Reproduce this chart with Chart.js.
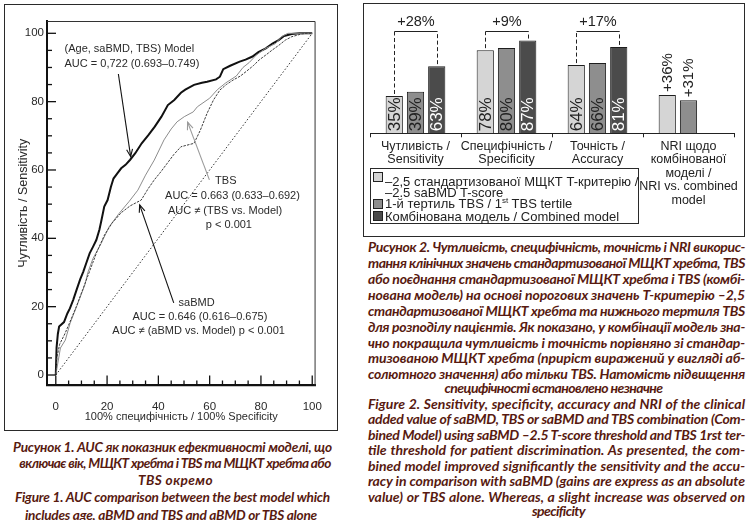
<!DOCTYPE html>
<html><head><meta charset="utf-8">
<script src="https://cdn.jsdelivr.net/npm/chart.js@4.4.1/dist/chart.umd.min.js"></script>
<style>
html,body{margin:0;padding:0;background:#fff;}
body{width:748px;height:520px;position:relative;overflow:hidden;font-family:"Liberation Sans",Arial,sans-serif;color:#222;}
.box{position:absolute;border:1px solid #2a2a2a;box-sizing:border-box;}
canvas{position:absolute;}
.cap{position:absolute;white-space:nowrap;font-family:Lato,"Open Sans",sans-serif;font-weight:700;font-style:italic;color:#581a10;line-height:16px;height:16px;}
.lg{position:absolute;white-space:nowrap;font-size:13px;line-height:13px;color:#222;}
.sw{position:absolute;width:10px;height:10px;border:1px solid #222;box-sizing:border-box;}
</style>
</head><body>
<div class="box" style="left:4px;top:4px;width:334px;height:427px;"></div>
<div class="box" style="left:363px;top:3px;width:382px;height:234px;"></div>
<canvas id="roc" width="331" height="424" style="left:5px;top:5px;width:331px;height:424px;"></canvas>
<canvas id="bar" width="380" height="232" style="left:364px;top:4px;width:380px;height:232px;"></canvas>
<div id="legend"></div>
<div id="caps"></div>
<script>
// ---------- ROC data (Figure 1) ----------
const MODEL_FPR = [0,0.3,0.8,1.3,3.2,4.5,5.5,6.8,8.1,9.5,10.7,12,13.2,14.5,15.8,17,17.7,18.9,20.2,21.5,22.5,24,25.5,27.2,29,31,33.5,36.1,38.6,41.2,43.7,46.2,48.8,50.5,53.9,57,59,62.5,64,65.3,68,71.7,74,76.7,79,81.9,84.5,86.9,89,92,95,100];
const MODEL_TPR = [0,8,12,14.2,15.5,18,19.5,22,24.9,28,30.2,33,35.6,37.5,39.5,42.5,44.9,49.3,51.2,55.1,57.5,59,60.5,61.5,63,64.9,67.8,70.2,72.7,75.6,79,80.5,82.6,83.5,84.9,85.5,85.8,86.5,87.3,89.5,90.5,91.7,92.3,93.2,94.5,95.6,97,98,99.2,99.8,100,100];
const TBS_FPR = [0,0.8,1.8,3.7,5.6,8.1,11.3,12.5,14.5,17.7,20.8,24.7,28.5,32,35,38.4,42.2,45,47.3,50.1,53.6,55.2,60,63,66.3,70.4,73,75.5,78,81.6,85.7,88,90.5,100];
const TBS_TPR = [0,3.5,7.9,10.2,15.2,20,26.3,30,34.1,38.5,43.4,47.3,50.7,54.1,58.5,62.9,68.8,72,74.1,75.6,77,78.5,81,83.5,85.5,87.5,90,91.5,93.5,95.5,97,99,100,100];
const SABMD_FPR = [0,0.4,1.5,3.5,5.5,8,10.5,13.5,16,19,22,25.5,29,33.3,36,38.4,41,43.5,46,48.8,53.9,55,56.4,59,61.5,64,66.5,69.1,72,74.2,77,79.3,82,84.4,87,89.5,92,95.8,98,100];
const SABMD_TPR = [0,5,9,12,15.5,20,25,31,36,41,44.5,47.5,49.5,51.2,54.5,57.1,59.5,62,64.5,66.8,67.8,69.5,71.7,76.6,80.5,83.4,85,86.3,87.5,88.8,90.5,92.2,93.7,95.1,96.5,98,99,99.8,100,100];
const DIAG_X = [0,100];
const DIAG_Y = [0,100];
const ROC_TICKS = [0,20,40,60,80,100];
const ROC_MINOR_STEP = 5;
const ROC_X_TITLE = '100% специфічність / 100% Specificity';
const ROC_Y_TITLE = 'Чутливість / Sensitivity';
const ROC_NOTES = [
  {t:'(Age, saBMD, TBS) Model', x:3.4, y:95.4, a:'left'},
  {t:'AUC = 0,722 (0.693–0.749)', x:3.4, y:91.0, a:'left'},
  {t:'TBS', x:66.3, y:56.8, a:'center'},
  {t:'AUC = 0.663 (0.633–0.692)', x:68.9, y:52.4, a:'center'},
  {t:'AUC ≠ (TBS vs. Model)', x:66.0, y:48.0, a:'center'},
  {t:'p < 0.001', x:67.5, y:43.9, a:'center'},
  {t:'saBMD', x:54.9, y:21.2, a:'center'},
  {t:'AUC = 0.646 (0.616–0.675)', x:56.2, y:17.1, a:'center'},
  {t:'AUC ≠ (aBMD vs. Model) p < 0.001', x:55.7, y:12.9, a:'center'}
];
const ROC_ARROWS = [
  {x1:24.4,y1:88.1,x2:29.2,y2:63.9,c:'#111'},
  {x1:59.9,y1:57.1,x2:51.4,y2:74.0,c:'#9a9a9a'},
  {x1:46.0,y1:21.1,x2:32.7,y2:49.8,c:'#111'}
];

// ---------- Bar data (Figure 2) ----------
const CATEGORIES = [['Чутливість /','Sensitivity'],['Специфічність /','Specificity'],['Точність /','Accuracy'],['NRI щодо','комбінованої','моделі /','NRI vs. combined','model']];
const SABMD_VALUES = [35,78,64,36];
const TBS_VALUES = [39,80,66,31];
const COMBINED_VALUES = [63,87,81,null];
const GAIN_LABELS = ['+28%','+9%','+17%',null];
const NRI_CATEGORY = 3;
const BRACKET_LEVEL = 96;
const GAIN_TEXT_LEVEL = 104;

const pts = (xs, ys) => xs.map((x,i)=>({x:x,y:ys[i]}));
const FONT = '"Liberation Sans", Arial, sans-serif';

const rocDecor = {
  id:'rocDecor',
  afterDraw(chart){
    const {ctx, chartArea:a, scales:{x,y}} = chart;
    ctx.save();
    ctx.strokeStyle='#333'; ctx.lineWidth=1;
    ctx.beginPath();
    ctx.moveTo(a.left, a.top+0.5); ctx.lineTo(a.right-0.5, a.top+0.5); ctx.lineTo(a.right-0.5, a.bottom);
    ctx.stroke();
    ctx.strokeStyle='#111'; ctx.lineWidth=1.3;
    for(let v=0; v<=100; v+=ROC_MINOR_STEP){
      const major = ROC_TICKS.includes(v);
      const py = y.getPixelForValue(v);
      ctx.beginPath(); ctx.moveTo(a.left, py); ctx.lineTo(a.left + (major?9:5), py); ctx.stroke();
      const px = x.getPixelForValue(v);
      ctx.beginPath(); ctx.moveTo(px, a.bottom); ctx.lineTo(px, a.bottom - (major?10:5)); ctx.stroke();
    }
    ctx.fillStyle='#2a2a2a'; ctx.font='11px '+FONT; ctx.textBaseline='middle';
    ROC_NOTES.forEach(n=>{ ctx.textAlign=n.a; ctx.fillText(n.t, x.getPixelForValue(n.x), y.getPixelForValue(n.y)); });
    ROC_ARROWS.forEach(r=>{
      const x1=x.getPixelForValue(r.x1), y1=y.getPixelForValue(r.y1), x2=x.getPixelForValue(r.x2), y2=y.getPixelForValue(r.y2);
      ctx.strokeStyle=r.c; ctx.fillStyle=r.c; ctx.lineWidth=1.1;
      ctx.beginPath(); ctx.moveTo(x1,y1); ctx.lineTo(x2,y2); ctx.stroke();
      const ang=Math.atan2(y2-y1,x2-x1), L=8, W=0.38;
      ctx.beginPath();
      ctx.moveTo(x2 - L*Math.cos(ang-W), y2 - L*Math.sin(ang-W));
      ctx.lineTo(x2,y2);
      ctx.lineTo(x2 - L*Math.cos(ang+W), y2 - L*Math.sin(ang+W));
      ctx.stroke();
    });
    ctx.restore();
  }
};

new Chart(document.getElementById('roc'), {
  type:'scatter',
  data:{datasets:[
    {label:'Reference', data:pts(DIAG_X,DIAG_Y), showLine:true, borderColor:'#333', borderWidth:1, borderDash:[1.5,2], pointRadius:0},
    {label:'saBMD', data:pts(SABMD_FPR,SABMD_TPR), showLine:true, borderColor:'#3c3c3c', borderWidth:1, borderDash:[2.5,1.2], pointRadius:0},
    {label:'TBS', data:pts(TBS_FPR,TBS_TPR), showLine:true, borderColor:'#8c8c8c', borderWidth:1, pointRadius:0},
    {label:'(Age, saBMD, TBS) Model', data:pts(MODEL_FPR,MODEL_TPR), showLine:true, borderColor:'#111', borderWidth:2, pointRadius:0}
  ]},
  options:{
    responsive:false, animation:false, devicePixelRatio:1,
    layout:{padding:{top:16,right:14.3,left:0,bottom:0}},
    plugins:{legend:{display:false}, tooltip:{enabled:false}},
    scales:{
      x:{type:'linear', min:-3.43, max:101.3,
        afterBuildTicks:s=>{s.ticks=ROC_TICKS.map(v=>({value:v}));},
        afterFit:s=>{s.height=43.5;},
        grid:{display:true, drawOnChartArea:false, drawTicks:false},
        border:{display:true, color:'#111', width:2.2},
        ticks:{padding:14, color:'#2a2a2a', font:{size:11.5, family:FONT}},
        title:{display:true, text:ROC_X_TITLE, color:'#2a2a2a', font:{size:11, family:FONT}, padding:{top:0,bottom:5}}},
      y:{type:'linear', min:-3.07, max:103.6,
        afterBuildTicks:s=>{s.ticks=ROC_TICKS.map(v=>({value:v}));},
        afterFit:s=>{s.width=42;},
        grid:{display:true, drawOnChartArea:false, drawTicks:false},
        border:{display:true, color:'#111', width:2},
        ticks:{padding:3, color:'#2a2a2a', font:{size:11.5, family:FONT}},
        title:{display:true, text:ROC_Y_TITLE, color:'#2a2a2a', font:{size:12.5, family:FONT}, padding:{top:11,bottom:0}}}
    }
  },
  plugins:[rocDecor]
});

const barDecor = {
  id:'barDecor',
  afterDatasetsDraw(chart){
    const {ctx, scales:{x,y}} = chart;
    const base = y.getPixelForValue(0);
    ctx.save();
    chart.data.datasets.forEach((ds,i)=>{
      const meta = chart.getDatasetMeta(i);
      meta.data.forEach((bar,j)=>{
        const v = ds.data[j];
        if(v===null || v===undefined) return;
        ctx.save();
        if(j===NRI_CATEGORY){
          ctx.translate(bar.x, bar.y-3); ctx.rotate(-Math.PI/2);
          ctx.font='15px '+FONT; ctx.fillStyle='#222';
          ctx.textAlign='left'; ctx.textBaseline='middle';
          ctx.fillText('+'+v+'%',0,0.5);
        } else {
          ctx.translate(bar.x, base-2); ctx.rotate(-Math.PI/2);
          ctx.font='17px '+FONT; ctx.fillStyle = i===2 ? '#ffffff' : '#222';
          ctx.textAlign='left'; ctx.textBaseline='middle';
          ctx.fillText(v+'%',0,1);
        }
        ctx.restore();
      });
    });
    const m0 = chart.getDatasetMeta(0), m2 = chart.getDatasetMeta(2);
    const yb = Math.round(y.getPixelForValue(BRACKET_LEVEL))+0.5;
    GAIN_LABELS.forEach((g,j)=>{
      if(!g) return;
      const b0=m0.data[j], b2=m2.data[j];
      const x1=Math.round(b0.x)+0.5, x2=Math.round(b2.x)+0.5;
      ctx.strokeStyle='#222'; ctx.lineWidth=1;
      ctx.setLineDash([4,2.5]);
      ctx.beginPath(); ctx.moveTo(x1,b0.y-2); ctx.lineTo(x1,yb); ctx.stroke();
      ctx.beginPath(); ctx.moveTo(x2,b2.y-2); ctx.lineTo(x2,yb); ctx.stroke();
      ctx.setLineDash([]);
      ctx.beginPath(); ctx.moveTo(x1,yb); ctx.lineTo(x2,yb); ctx.stroke();
      ctx.font='14.5px '+FONT; ctx.fillStyle='#222'; ctx.textAlign='center'; ctx.textBaseline='middle';
      ctx.fillText(g,(x1+x2)/2, y.getPixelForValue(GAIN_TEXT_LEVEL));
    });
    ctx.restore();
  }
};

new Chart(document.getElementById('bar'), {
  type:'bar',
  data:{labels:CATEGORIES, datasets:[
    {label:'–2,5 стандартизованої МЩКТ T-критерію / –2.5 saBMD T-score', data:SABMD_VALUES, backgroundColor:'#d5d5d5', borderColor:'#1e1e1e', borderWidth:1},
    {label:'1-й тертиль TBS / 1st TBS tertile', data:TBS_VALUES, backgroundColor:'#8e8e8e', borderColor:'#1e1e1e', borderWidth:1},
    {label:'Комбінована модель / Combined model', data:COMBINED_VALUES, backgroundColor:'#4b4b4b', borderColor:'#1e1e1e', borderWidth:1}
  ]},
  options:{
    responsive:false, animation:false, devicePixelRatio:1,
    layout:{padding:{left:6,right:10,top:6.7,bottom:0}},
    datasets:{bar:{categoryPercentage:0.70, barPercentage:0.81}},
    plugins:{legend:{display:false}, tooltip:{enabled:false}},
    scales:{
      x:{grid:{display:true, drawOnChartArea:false, drawTicks:true, tickLength:4, color:'#222', offset:true},
         border:{display:true, color:'#222', width:1},
         ticks:{color:'#222', font:{size:12.5, family:FONT, lineHeight:1.09}, padding:2, maxRotation:0, autoSkip:false},
         afterFit:s=>{s.height=102.7;}},
      y:{display:false, min:0, max:115}
    }
  },
  plugins:[barDecor]
});

// ---------- Legend (HTML) ----------
const LEGEND_FILL = ['#d5d5d5','#8e8e8e','#4b4b4b'];
(function(){
  const L = document.getElementById('legend');
  L.innerHTML =
    '<div class="box" style="left:370px;top:168px;width:269px;height:56px;"></div>'+
    '<div class="sw" style="left:373px;top:172px;background:'+LEGEND_FILL[0]+'"></div>'+
    '<div class="lg" style="left:385px;top:174.5px">–2,5 стандартизованої МЩКТ T-критерію /</div>'+
    '<div class="lg" style="left:385px;top:186px">–2.5 saBMD T-score</div>'+
    '<div class="sw" style="left:373px;top:198.5px;background:'+LEGEND_FILL[1]+'"></div>'+
    '<div class="lg" style="left:385px;top:197px">1-й тертиль TBS / 1<sup style="font-size:8px;vertical-align:5px;line-height:0">st</sup> TBS tertile</div>'+
    '<div class="sw" style="left:373px;top:211px;background:'+LEGEND_FILL[2]+'"></div>'+
    '<div class="lg" style="left:385px;top:209.5px">Комбінована модель / Combined model</div>';
})();

// ---------- Captions ----------
// [text, mode, x0, x1, yCenter, group]
const CAPS = [
  ['Рисунок 1. AUC як показник ефективності моделі, що','c',13,332,446.7,0],
  ['включає вік, МЩКТ хребта і TBS та МЩКТ хребта або','c',22,328,463.3,0],
  ['TBS окремо','c',138,213,479.5,0],
  ['Figure 1. AUC comparison between the best model which','c',15,330,497,0],
  ['includes age, aBMD and TBS and aBMD or TBS alone','c',25,317,514.5,0],
  ['Рисунок 2. Чутливість, специфічність, точність і NRI викорис-','j',368,745,247.3,1],
  ['тання клінічних значень стандартизованої МЩКТ хребта, TBS','j',368,745,263.3,1],
  ['або поєднання стандартизованої МЩКТ хребта і TBS (комбі-','j',368,745,279.3,1],
  ['нована модель) на основі порогових значень T-критерію –2,5','j',368,745,295,1],
  ['стандартизованої МЩКТ хребта та нижнього тертиля TBS','j',368,745,311,1],
  ['для розподілу пацієнтів. Як показано, у комбінації модель зна-','j',368,745,326.7,1],
  ['чно покращила чутливість і точність порівняно зі стандар-','j',368,745,342.7,1],
  ['тизованою МЩКТ хребта (приріст виражений у вигляді аб-','j',368,745,358.3,1],
  ['солютного значення) або тільки TBS. Натомість підвищення','j',368,745,374,1],
  ['специфічності встановлено незначне','c',447,660,388,1],
  ['Figure 2. Sensitivity, specificity, accuracy and NRI of the clinical','j',368,745,403.5,1],
  ['added value of saBMD, TBS or saBMD and TBS combination (Com-','j',368,745,419,1],
  ['bined Model) using saBMD –2.5 T-score threshold and TBS 1rst ter-','j',368,745,434.5,1],
  ['tile threshold for patient discrimination. As presented, the com-','j',368,745,450,1],
  ['bined model improved significantly the sensitivity and the accu-','j',368,745,465.7,1],
  ['racy in comparison with saBMD (gains are express as an absolute','j',368,745,481,1],
  ['value) or TBS alone. Whereas, a slight increase was observed on','j',368,745,496.7,1],
  ['specificity','c',537,580,510.5,1]
];
const BASE = 14;
const capBox = document.getElementById('caps');
const capEls = CAPS.map(c=>{
  const d = document.createElement('div');
  d.className='cap';
  d.style.fontSize=BASE+'px';
  d.style.left=c[2]+'px';
  d.style.top=(c[4]-8)+'px';
  const s=document.createElement('span'); s.textContent=c[0]; d.appendChild(s);
  capBox.appendChild(d);
  return [d,s,c];
});
function fitCaps(){
  [0,1].forEach(g=>{
    const items = capEls.filter(e=>e[2][5]===g);
    const ratios = [];
    items.forEach(([d,s,c])=>{
      d.style.fontSize=BASE+'px'; d.style.letterSpacing='0px'; d.style.wordSpacing='0px';
      if((c[3]-c[2])>250){ ratios.push((c[3]-c[2])/s.getBoundingClientRect().width); }
    });
    ratios.sort((a,b)=>a-b);
    const r = ratios.length ? ratios[Math.floor(ratios.length*0.3)] : 1;
    const fs = Math.max(11, Math.min(16, BASE*r*1.04));
    items.forEach(([d,s,c])=>{
      d.style.fontSize=fs+'px';
      const target=c[3]-c[2], n=c[0].length;
      let w=s.getBoundingClientRect().width;
      if(c[1]==='c'){
        d.style.letterSpacing=Math.max(-0.6,Math.min(0.6,(target-w)/n))+'px';
        w=s.getBoundingClientRect().width;
        d.style.left=((c[2]+c[3])/2 - w/2)+'px';
      } else {
        if(w>target){ d.style.letterSpacing=((target-w)/n)+'px'; w=s.getBoundingClientRect().width; }
        const sp=(c[0].match(/ /g)||[]).length;
        if(sp>0 && w<target) d.style.wordSpacing=((target-w)/sp)+'px';
      }
    });
  });
}
fitCaps();
if(document.fonts && document.fonts.ready) document.fonts.ready.then(fitCaps);
</script>
</body></html>
